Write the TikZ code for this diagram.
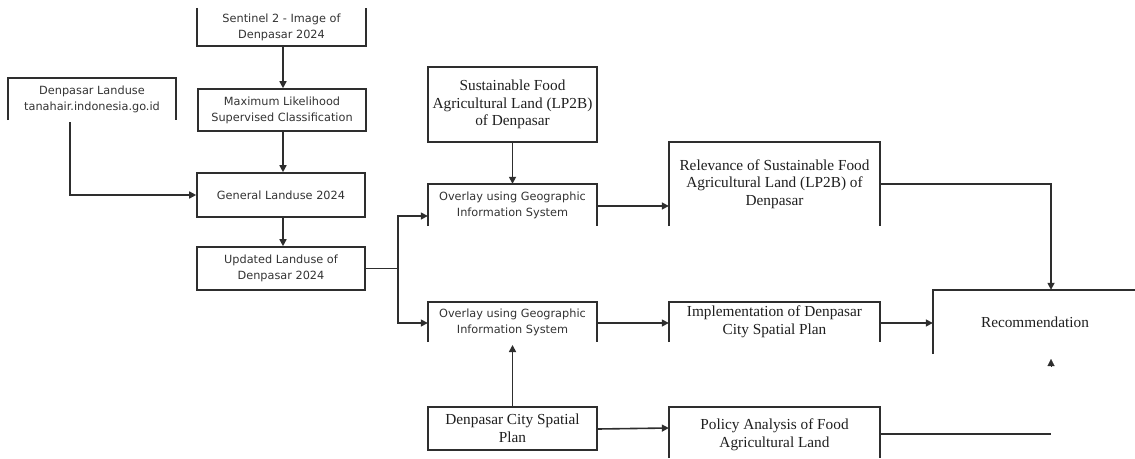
\documentclass[tikz,border=0pt]{standalone}
\usepackage{fontspec}
\setmainfont{Liberation Serif}
\newfontfamily\boxsans{DejaVu Sans}
\usetikzlibrary{arrows.meta}
\definecolor{linegray}{HTML}{2E2E2E}
\definecolor{sanstext}{HTML}{333333}
\definecolor{seriftext}{HTML}{1E1E1E}
\begin{document}
\begin{tikzpicture}[x=1pt,y=-1pt,
  sbox/.style={align=center,inner sep=0pt,text=sanstext,font=\boxsans\fontsize{11.3}{16}\selectfont},
  rbox/.style={align=center,inner sep=0pt,text=seriftext,font=\fontsize{15.3}{17.5}\selectfont},
  frame/.style={draw=linegray,line width=1.6pt},
  conn/.style={draw=linegray,line width=1.6pt},
  arr/.style={conn,-{Triangle[length=7pt,width=7pt]}}
]
\useasboundingbox (0,0) rectangle (1135,458);

% left column
\node[sbox,minimum width=169pt,minimum height=38pt] (sent) at (281.5,27) {Sentinel 2 - Image of\\Denpasar 2024};
\draw[frame] (sent.north west) -- (sent.south west) -- (sent.south east) -- (sent.north east);

\node[sbox,frame,minimum width=168pt,minimum height=42pt] (mlc) at (282,110) {Maximum Likelihood\\Supervised Classification};

\node[sbox,minimum width=168pt,minimum height=42pt] (dlu) at (92,99) {Denpasar Landuse\\tanahair.indonesia.go.id};
\draw[frame] (dlu.south west) -- (dlu.north west) -- (dlu.north east) -- (dlu.south east);

\node[sbox,frame,minimum width=168pt,minimum height=44pt] (gen) at (281,195) {General Landuse 2024};
\node[sbox,frame,minimum width=168pt,minimum height=43pt] (upd) at (281,268.5) {Updated Landuse of\\Denpasar 2024};

% middle column
\node[rbox,frame,minimum width=169pt,minimum height=75pt] (lp2b) at (512.5,104.5) {Sustainable Food\\Agricultural Land (LP2B)\\of Denpasar};

\node[sbox,minimum width=169pt,minimum height=42pt] (ov1) at (512.5,205) {Overlay using Geographic\\Information System};
\draw[frame] (ov1.south west) -- (ov1.north west) -- (ov1.north east) -- (ov1.south east);

\node[sbox,minimum width=169pt,minimum height=40pt] (ov2) at (512.5,322) {Overlay using Geographic\\Information System};
\draw[frame] (ov2.south west) -- (ov2.north west) -- (ov2.north east) -- (ov2.south east);

\node[rbox,frame,minimum width=169pt,minimum height=43pt] (csp) at (512.5,428.5) {Denpasar City Spatial\\Plan};

% right column
\node[rbox,minimum width=211pt,minimum height=84pt] (rel) at (774.5,184) {Relevance of Sustainable Food\\Agricultural Land (LP2B) of\\Denpasar};
\draw[frame] (rel.south west) -- (rel.north west) -- (rel.north east) -- (rel.south east);

\node[rbox,minimum width=211pt,minimum height=40pt] (impl) at (774.5,322) {Implementation of Denpasar\\City Spatial Plan};
\draw[frame] (impl.south west) -- (impl.north west) -- (impl.north east) -- (impl.south east);

\node[rbox,minimum width=211pt,minimum height=56pt] (pol) at (774.5,435) {Policy Analysis of Food\\Agricultural Land};
\draw[frame] (pol.south west |- 0,458) -- (pol.north west) -- (pol.north east) -- (pol.south east |- 0,458);

\node[rbox,minimum width=204pt,minimum height=64pt] (rec) at (1035,322) {Recommendation};
\draw[frame] (rec.south west) -- (rec.north west) -- (rec.north east);

% connectors
\coordinate (dluout) at (70,122);
\coordinate (split) at (398,268.5);
\coordinate (relcorner) at (1051,184);
\coordinate (polend) at (1051,434);
\coordinate (rectip) at (1051,359);

\draw[arr] (sent.south -| 283,0) -- (mlc.north -| 283,0);
\draw[arr] (mlc.south -| 283,0) -- (gen.north -| 283,0);
\draw[arr] (dluout) |- (gen.west);
\draw[arr] (gen.south -| 283,0) -- (upd.north -| 283,0);
\draw[conn] (upd.east) -- (split);
\draw[arr] (split) |- (ov1.west |- 0,216);
\draw[arr] (split) |- (ov2.west |- 0,323);
\draw[arr] (lp2b.south) -- (ov1.north);
\draw[arr] (ov1.east |- 0,206) -- (rel.west |- 0,206);
\draw[arr] (rel.east |- 0,184) -- (relcorner) -- (rec.north -| relcorner);
\draw[arr] (ov2.east |- 0,323) -- (impl.west |- 0,323);
\draw[arr] (impl.east |- 0,323) -- (rec.west |- 0,323);
\draw[arr] (csp.north) -- (ov2.south |- 0,345);
\draw[arr] (csp.east |- 0,429) -- (pol.west |- 0,428);
\draw[conn] (pol.east |- 0,434) -- (polend);
\draw[-{Triangle[length=7pt,width=7pt]},draw=linegray,line width=0.1pt] (1051,367) -- (rectip);
\end{tikzpicture}
\end{document}
